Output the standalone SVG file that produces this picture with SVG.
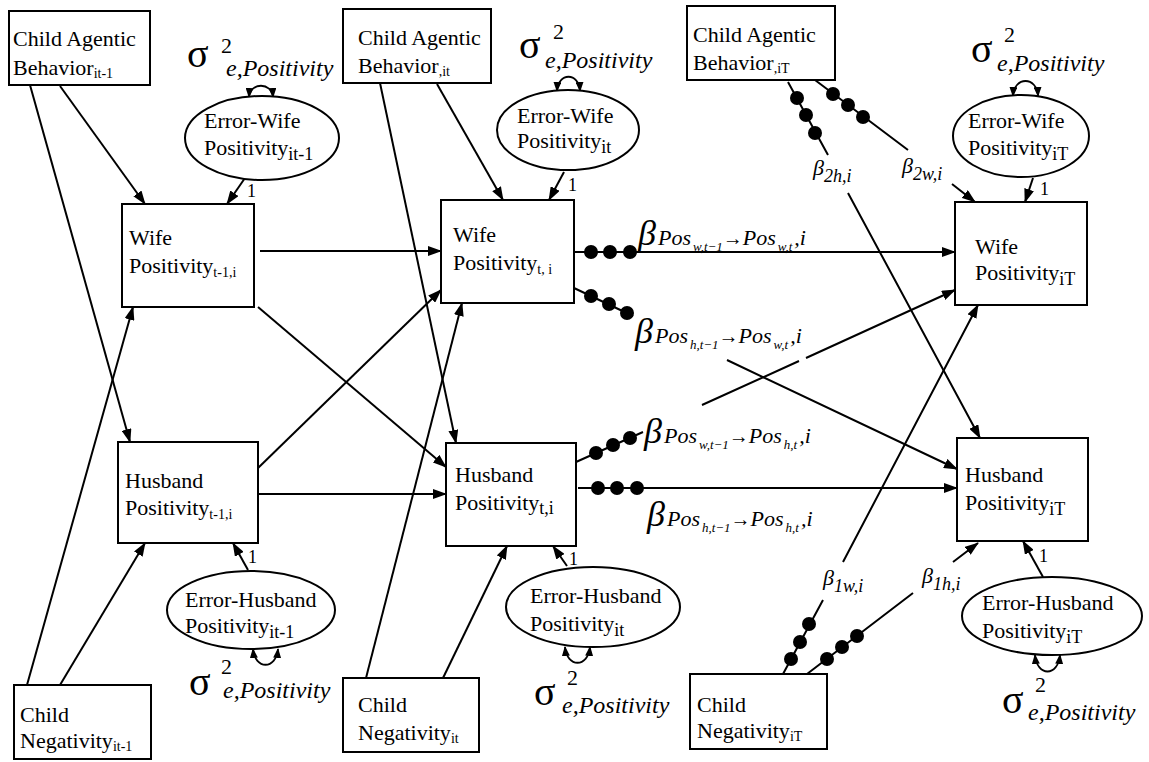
<svg xmlns="http://www.w3.org/2000/svg" width="1149" height="762" viewBox="0 0 1149 762">
<style>
text{font-family:"Liberation Serif",Tinos,"Times New Roman",Times,"Nimbus Roman","Noto Serif","DejaVu Serif",serif;fill:#000}
.n{font-size:22px}
.s14{font-size:14px}
.s18{font-size:18px}
.it{font-style:italic}
.box{fill:#fff;stroke:#000;stroke-width:2}
.ell{fill:#fff;stroke:#000;stroke-width:2}
.c{fill:none;stroke:#000;stroke-width:2;marker-end:url(#ah)}
.loop{fill:none;stroke:#000;stroke-width:1.8;marker-start:url(#sh);marker-end:url(#sh)}
.sig{font-size:40px}
.sup{font-size:22px}
.sub{font-size:24px;font-style:italic}
.bead{fill:#000}
</style>
<defs>
<marker id="ah" markerWidth="14" markerHeight="10" refX="13" refY="5" orient="auto" markerUnits="userSpaceOnUse"><path d="M0,0 L14,5 L0,10 z" fill="#000"/></marker>
<marker id="sh" markerWidth="10" markerHeight="8" refX="9" refY="4" orient="auto-start-reverse" markerUnits="userSpaceOnUse"><path d="M0,0 L10,4 L0,8 z" fill="#000"/></marker>
</defs>
<rect width="1149" height="762" fill="#fff"/>

<g id="connectors">
<path class="c" d="M30,85 L130,442"/>
<path class="c" d="M60,86 L145,204"/>
<path class="c" d="M27,685 L133,307"/>
<path class="c" d="M60,685 L145,543"/>
<path class="c" d="M245,178 L227,204"/>
<path class="c" d="M248,570 L233,543"/>
<path class="c" d="M260,251 L441,251"/>
<path class="c" d="M258,307 L446,467"/>
<path class="c" d="M257,469 L441,290"/>
<path class="c" d="M257,494 L446,494"/>
<path class="c" d="M380,83 L456,443"/>
<path class="c" d="M437,84 L503,200"/>
<path class="c" d="M366,678 L462,303"/>
<path class="c" d="M443,678 L507,546"/>
<path class="c" d="M564,172 L549,200"/>
<path class="c" d="M567,566 L553,546"/>
<path class="c" d="M574,252 L955,252"/>
<path class="c" d="M574,288 L633,316 M727,360 L957,469"/>
<path class="c" d="M576,462 L643,432 M702,405 L799,361 M806,358 L955,290"/>
<path class="c" d="M578,488 L957,488"/>
<path class="c" d="M788,82 L828,155 M848,193 L980,438"/>
<path class="c" d="M815,80 L908,150 M952,184 L975,202"/>
<path class="c" d="M783,674 L823,600 M843,562 L978,305"/>
<path class="c" d="M807,674 L913,593 M953,562 L978,543"/>
<path class="c" d="M1033,178 L1025,202"/>
<path class="c" d="M1043,577 L1023,541"/>
<g class="bead">
<circle cx="591" cy="252" r="7"/><circle cx="610" cy="252" r="7"/><circle cx="630" cy="252" r="7"/>
<circle cx="591" cy="296" r="7"/><circle cx="609" cy="304" r="7"/><circle cx="627" cy="313" r="7"/>
<circle cx="596" cy="453" r="7"/><circle cx="613" cy="445" r="7"/><circle cx="630" cy="438" r="7"/>
<circle cx="598" cy="488" r="7"/><circle cx="617" cy="488" r="7"/><circle cx="637" cy="488" r="7"/>
<circle cx="797" cy="98" r="7"/><circle cx="806" cy="115" r="7"/><circle cx="815" cy="133" r="7"/>
<circle cx="833" cy="94" r="7"/><circle cx="848" cy="105" r="7"/><circle cx="863" cy="117" r="7"/>
<circle cx="791" cy="659" r="7"/><circle cx="800" cy="642" r="7"/><circle cx="809" cy="624" r="7"/>
<circle cx="827" cy="659" r="7"/><circle cx="842" cy="647" r="7"/><circle cx="857" cy="636" r="7"/>
</g>
<path class="loop" d="M249,97 C250,82 272,82 273,97"/>
<path class="loop" d="M557,91 C558,72 579,72 580,91"/>
<path class="loop" d="M1013,96 C1014,76 1037,76 1038,96"/>
<path class="loop" d="M253,649 C255,670 276,670 278,649"/>
<path class="loop" d="M565,647 C567,668 588,668 590,647"/>
<path class="loop" d="M1035,655 C1037,677 1058,677 1060,655"/>
</g>

<g id="labels">
<text class="n" x="247" y="197" style="font-size:18px">1</text>
<text class="n" x="568" y="191" style="font-size:18px">1</text>
<text class="n" x="1040" y="195" style="font-size:18px">1</text>
<text class="n" x="248" y="563" style="font-size:18px">1</text>
<text class="n" x="569" y="565" style="font-size:18px">1</text>
<text class="n" x="1039" y="562" style="font-size:18px">1</text>

<text x="638" y="245" class="it"><tspan font-size="36">β</tspan><tspan dx="2" font-size="22">Pos</tspan><tspan dx="2" dy="6" font-size="13">w,t−1</tspan><tspan dy="-6" font-size="20" font-style="normal">→</tspan><tspan font-size="22">Pos</tspan><tspan dx="2" dy="6" font-size="13">w,t</tspan><tspan dx="2" dy="-6" font-size="22">,i</tspan></text>
<text x="635" y="343" class="it"><tspan font-size="36">β</tspan><tspan dx="2" font-size="22">Pos</tspan><tspan dx="2" dy="6" font-size="13">h,t−1</tspan><tspan dy="-6" font-size="20" font-style="normal">→</tspan><tspan font-size="22">Pos</tspan><tspan dx="2" dy="6" font-size="13">w,t</tspan><tspan dx="2" dy="-6" font-size="22">,i</tspan></text>
<text x="644" y="443" class="it"><tspan font-size="36">β</tspan><tspan dx="2" font-size="22">Pos</tspan><tspan dx="2" dy="6" font-size="13">w,t−1</tspan><tspan dy="-6" font-size="20" font-style="normal">→</tspan><tspan font-size="22">Pos</tspan><tspan dx="2" dy="6" font-size="13">h,t</tspan><tspan dx="2" dy="-6" font-size="22">,i</tspan></text>
<text x="647" y="526" class="it"><tspan font-size="36">β</tspan><tspan dx="2" font-size="22">Pos</tspan><tspan dx="2" dy="6" font-size="13">h,t−1</tspan><tspan dy="-6" font-size="20" font-style="normal">→</tspan><tspan font-size="22">Pos</tspan><tspan dx="2" dy="6" font-size="13">h,t</tspan><tspan dx="2" dy="-6" font-size="22">,i</tspan></text>

<text x="813" y="175" class="it"><tspan font-size="22">β</tspan><tspan dy="7" font-size="18">2h,i</tspan></text>
<text x="902" y="173" class="it"><tspan font-size="22">β</tspan><tspan dy="7" font-size="18">2w,i</tspan></text>
<text x="823" y="585" class="it"><tspan font-size="22">β</tspan><tspan dy="7" font-size="18">1w,i</tspan></text>
<text x="922" y="583" class="it"><tspan font-size="22">β</tspan><tspan dy="7" font-size="18">1h,i</tspan></text>

<text class="sig" x="187" y="67">σ</text><text class="sup" x="221" y="53">2</text><text class="sub" x="226" y="76">e,Positivity</text>
<text class="sig" x="519" y="58">σ</text><text class="sup" x="553" y="39">2</text><text class="sub" x="545" y="68">e,Positivity</text>
<text class="sig" x="971" y="62">σ</text><text class="sup" x="1004" y="42">2</text><text class="sub" x="997" y="71">e,Positivity</text>
<text class="sig" x="189" y="695">σ</text><text class="sup" x="221" y="674">2</text><text class="sub" x="223" y="698">e,Positivity</text>
<text class="sig" x="534" y="705">σ</text><text class="sup" x="567" y="685">2</text><text class="sub" x="562" y="713">e,Positivity</text>
<text class="sig" x="1002" y="713">σ</text><text class="sup" x="1035" y="692">2</text><text class="sub" x="1028" y="720">e,Positivity</text>
</g>

<g id="cab-t1"><rect class="box" x="9" y="11" width="141" height="74"/><text class="n" x="13" y="46">Child Agentic</text><text class="n" x="13" y="75">Behavior<tspan class="s14" dy="3">it-1</tspan></text></g>
<g id="cab-t"><rect class="box" x="343" y="9" width="148" height="74"/><text class="n" x="358" y="45">Child Agentic</text><text class="n" x="358" y="73">Behavior<tspan class="s14" dy="3">,it</tspan></text></g>
<g id="cab-T"><rect class="box" x="687" y="6" width="148" height="74"/><text class="n" x="693" y="42">Child Agentic</text><text class="n" x="693" y="70">Behavior<tspan class="s14" dy="3">,iT</tspan></text></g>

<g id="errw-t1"><ellipse class="ell" cx="262" cy="138" rx="77" ry="42"/><text class="n" x="204" y="128">Error-Wife</text><text class="n" x="204" y="155">Positivity<tspan class="s18" dy="5">it-1</tspan></text></g>
<g id="errw-t"><ellipse class="ell" cx="568" cy="130" rx="71" ry="40"/><text class="n" x="517" y="123">Error-Wife</text><text class="n" x="517" y="148">Positivity<tspan class="s18" dy="5">it</tspan></text></g>
<g id="errw-T"><ellipse class="ell" cx="1021" cy="136" rx="68" ry="41"/><text class="n" x="968" y="128">Error-Wife</text><text class="n" x="968" y="155">Positivity<tspan class="s18" dy="5">iT</tspan></text></g>

<g id="wife-t1"><rect class="box" x="122" y="204" width="132" height="103"/><text class="n" x="129" y="245">Wife</text><text class="n" x="129" y="273">Positivity<tspan class="s14" dy="4">t-1,i</tspan></text></g>
<g id="wife-t"><rect class="box" x="441" y="200" width="133" height="103"/><text class="n" x="453" y="242">Wife</text><text class="n" x="453" y="270">Positivity<tspan class="s14" dy="4">t, i</tspan></text></g>
<g id="wife-T"><rect class="box" x="955" y="202" width="132" height="103"/><text class="n" x="975" y="254">Wife</text><text class="n" x="975" y="280">Positivity<tspan class="s18" dy="5">iT</tspan></text></g>

<g id="hus-t1"><rect class="box" x="118" y="442" width="140" height="101"/><text class="n" x="125" y="488">Husband</text><text class="n" x="125" y="515">Positivity<tspan class="s14" dy="4">t-1,i</tspan></text></g>
<g id="hus-t"><rect class="box" x="446" y="443" width="130" height="103"/><text class="n" x="455" y="482">Husband</text><text class="n" x="455" y="510">Positivity<tspan class="s18" dy="4">t,i</tspan></text></g>
<g id="hus-T"><rect class="box" x="957" y="438" width="131" height="103"/><text class="n" x="965" y="482">Husband</text><text class="n" x="965" y="510">Positivity<tspan class="s18" dy="5">iT</tspan></text></g>

<g id="errh-t1"><ellipse class="ell" cx="251" cy="610" rx="84" ry="39"/><text class="n" x="185" y="607">Error-Husband</text><text class="n" x="185" y="633">Positivity<tspan class="s18" dy="5">it-1</tspan></text></g>
<g id="errh-t"><ellipse class="ell" cx="593" cy="607" rx="87" ry="40"/><text class="n" x="530" y="603">Error-Husband</text><text class="n" x="530" y="631">Positivity<tspan class="s18" dy="5">it</tspan></text></g>
<g id="errh-T"><ellipse class="ell" cx="1052" cy="616" rx="90" ry="39"/><text class="n" x="982" y="610">Error-Husband</text><text class="n" x="982" y="638">Positivity<tspan class="s18" dy="5">iT</tspan></text></g>

<g id="neg-t1"><rect class="box" x="14" y="685" width="137" height="74"/><text class="n" x="20" y="722">Child</text><text class="n" x="20" y="748">Negativity<tspan class="s14" dy="3">it-1</tspan></text></g>
<g id="neg-t"><rect class="box" x="343" y="678" width="136" height="74"/><text class="n" x="358" y="712">Child</text><text class="n" x="358" y="740">Negativity<tspan class="s14" dy="3">it</tspan></text></g>
<g id="neg-T"><rect class="box" x="690" y="674" width="137" height="75"/><text class="n" x="697" y="712">Child</text><text class="n" x="697" y="738">Negativity<tspan class="s14" dy="3">iT</tspan></text></g>
</svg>
